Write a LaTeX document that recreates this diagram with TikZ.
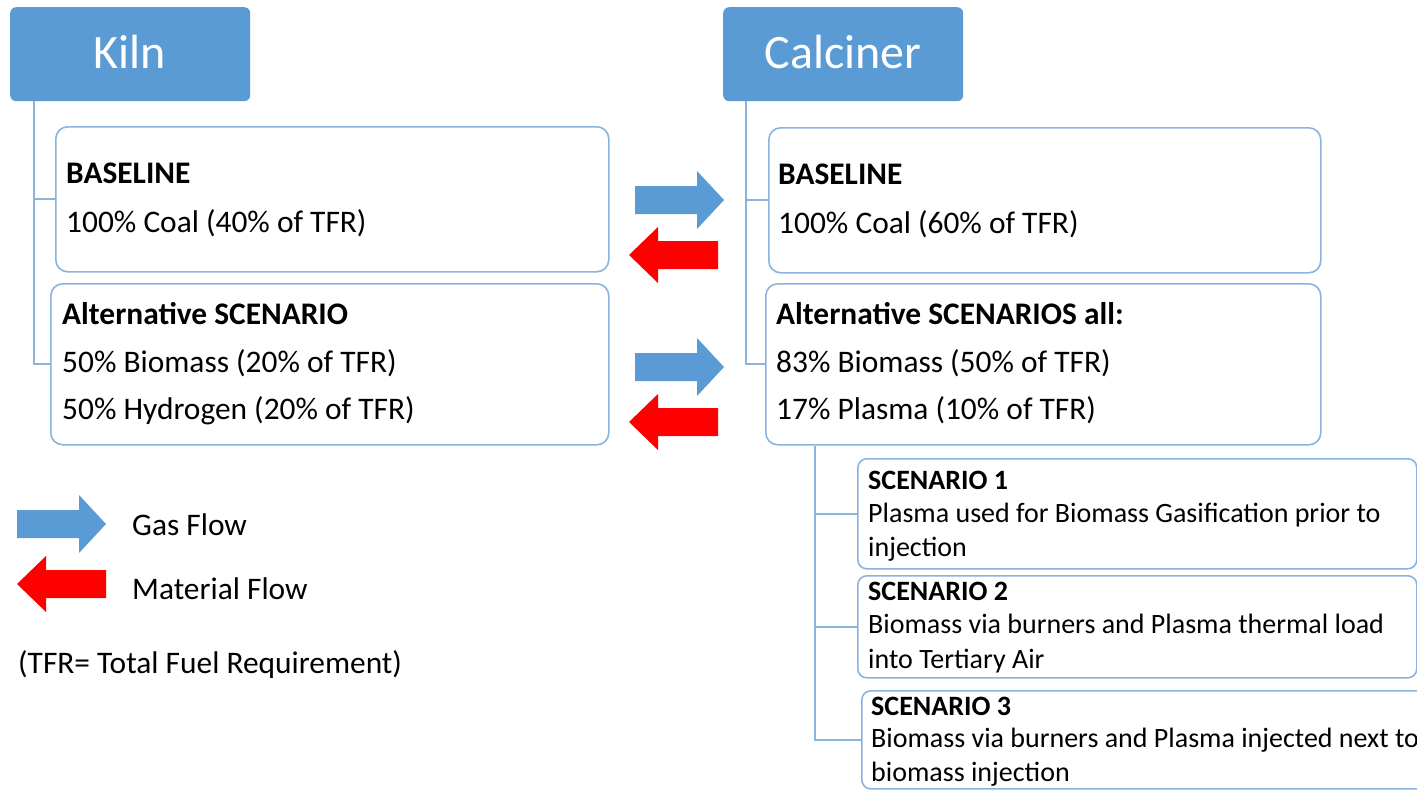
\documentclass[tikz,border=0pt]{standalone}
\usepackage{fontspec}
\setmainfont{Carlito}
\definecolor{hdrblue}{RGB}{91,155,213}
\definecolor{edgeblue}{RGB}{140,178,222}
\definecolor{flowred}{RGB}{255,0,0}
\begin{document}
\begin{tikzpicture}[x=1pt,y=-1pt,
  hdr/.style={fill=hdrblue, rounded corners=6pt, anchor=north west, inner sep=0, minimum width=240, minimum height=94},
  hdrtxt/.style={anchor=base, inner sep=0, text=white, font=\fontsize{48}{52}\selectfont},
  box/.style={draw=edgeblue, line width=1.6pt, rounded corners=12pt, fill=white, anchor=north west, inner sep=0},
  sbox/.style={box, rounded corners=9pt},
  txt/.style={anchor=base west, inner sep=0, font=\fontsize{31.4}{36}\selectfont},
  btxt/.style={anchor=base west, inner sep=0, font=\fontsize{31.4}{36}\selectfont\bfseries},
  stxt/.style={anchor=base west, inner sep=0, font=\fontsize{28}{32}\selectfont},
  sbtxt/.style={anchor=base west, inner sep=0, font=\fontsize{28}{32}\selectfont\bfseries},
  conn/.style={draw=edgeblue, line width=1.8pt},
  rarrow/.pic={\fill[pic actions] (0,-14) -- (62,-14) -- (62,-29) -- (89,0) -- (62,29) -- (62,14) -- (0,14) -- cycle;},
  larrow/.pic={\fill[pic actions] (0,0) -- (29,-28) -- (29,-14) -- (89,-14) -- (89,14) -- (29,14) -- (29,28) -- cycle;}
]
\useasboundingbox[fill=white] (0,0) rectangle (1417,790);

% headers
\node[hdr] (kiln) at (10,7) {};
\node[hdrtxt] (kilnt) at (130,68) {Kiln};
\node[hdr] (calc) at (723,7) {};
\node[hdrtxt] (calct) at (843,68) {Calciner};

% kiln boxes
\node[box, minimum width=553, minimum height=145] (kbase) at (55,126) {};
\node[btxt] (kb1) at (66,183) {BASELINE};
\node[txt] (kb2) at (66,232) {100\% Coal (40\% of TFR)};
\node[box, minimum width=558, minimum height=161] (kalt) at (50,283) {};
\node[btxt] (ka1) at (62,324) {Alternative SCENARIO};
\node[txt] (ka2) at (62,372) {50\% Biomass (20\% of TFR)};
\node[txt] (ka3) at (62,419) {50\% Hydrogen (20\% of TFR)};

% calciner boxes
\node[box, minimum width=552, minimum height=145] (cbase) at (768,127) {};
\node[btxt] (cb1) at (778,184) {BASELINE};
\node[txt] (cb2) at (778,233) {100\% Coal (60\% of TFR)};
\node[box, minimum width=555, minimum height=161] (calt) at (765,283) {};
\node[btxt] (ca1) at (776,324) {Alternative SCENARIOS all:};
\node[txt] (ca2) at (776,372) {83\% Biomass (50\% of TFR)};
\node[txt] (ca3) at (776,419) {17\% Plasma (10\% of TFR)};

% scenario boxes
\node[sbox, minimum width=559, minimum height=110] (s1) at (857,458) {};
\node[sbtxt] (s1a) at (868,489) {SCENARIO 1};
\node[stxt] (s1b) at (868,522) {Plasma used for Biomass Gasification prior to};
\node[stxt] (s1c) at (868,556) {injection};
\node[sbox, minimum width=559, minimum height=102] (s2) at (857,575) {};
\node[sbtxt] (s2a) at (868,600) {SCENARIO 2};
\node[stxt] (s2b) at (868,633) {Biomass via burners and Plasma thermal load};
\node[stxt] (s2c) at (868,668) {into Tertiary Air};
\node[sbox, minimum width=565, minimum height=98] (s3) at (861,690) {};
\node[sbtxt] (s3a) at (871,715) {SCENARIO 3};
\node[stxt] (s3b) at (871,747) {Biomass via burners and Plasma injected next to};
\node[stxt] (s3c) at (871,781) {biomass injection};

% tree connectors
\coordinate (kroot) at ([xshift=24]kiln.south west);
\draw[conn] (kroot) |- (kbase.west);
\draw[conn] (kroot) |- (kalt.west);
\coordinate (croot) at ([xshift=23]calc.south west);
\draw[conn] (croot) |- (cbase.west);
\draw[conn] (croot) |- (calt.west);
\coordinate (sroot) at ([xshift=50]calt.south west);
\draw[conn] (sroot) |- (s1.west);
\draw[conn] (sroot) |- (s2.west);
\draw[conn] (sroot) |- (s3.west);

% flow arrows
\pic[fill=hdrblue] at (635,200) {rarrow};
\pic[fill=flowred] at (629,255) {larrow};
\pic[fill=hdrblue] at (635,367) {rarrow};
\pic[fill=flowred] at (629,422) {larrow};

% legend
\pic[fill=hdrblue] at (17,524) {rarrow};
\node[txt] (lg) at (132,535) {Gas Flow};
\pic[fill=flowred] at (17,584) {larrow};
\node[txt] (lm) at (132,599) {Material Flow};
\node[txt] (ltfr) at (18,673) {(TFR= Total Fuel Requirement)};
\end{tikzpicture}
\end{document}
